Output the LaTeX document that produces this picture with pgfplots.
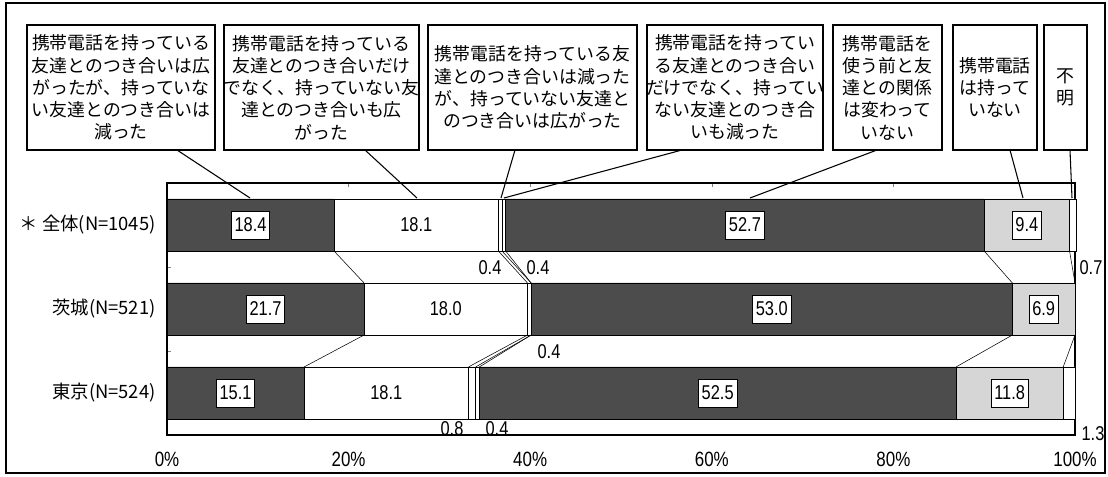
\documentclass[border=0pt]{standalone}
\usepackage{pgfplots}
\pgfplotsset{compat=1.18}
\usepackage{fontspec}
\setmainfont{Liberation Sans}
\newfontfamily\jp{Noto Sans CJK JP}
\newfontfamily\numfont[FakeStretch=0.82]{Liberation Sans}
\definecolor{dk}{gray}{0.30}
\definecolor{lt}{gray}{0.84}
\begin{document}
\begin{tikzpicture}[x=0.75pt,y=0.75pt]
\path[use as bounding box] (0,0) rectangle (1108,476);
\tikzset{
  vb/.style={fill=white, draw=black, line width=0.6pt,
    font=\numfont\fontsize{15}{15}\selectfont, inner xsep=2.5pt,
    minimum height=21pt},
  vp/.style={font=\numfont\fontsize{15}{15}\selectfont, inner sep=1pt},
  cb/.style={font=\jp\fontsize{13.4}{16.7}\selectfont, align=center, inner sep=0pt},
}
\begin{scope}[shift={(0,476)}, yscale=-1]
\draw[line width=0.9pt] (6,3) rectangle (1105,473);
\coordinate (AO) at (167,435);
\end{scope}
\pgfplotsset{
  base/.style={at={(AO)}, anchor=south west, width=681pt, height=189pt,
    scale only axis, xmin=0, xmax=100, ymin=-0.5, ymax=2.5, clip=false},
}
\begin{axis}[base,
  xbar stacked, bar width=0.62,
  axis line style={line width=1pt},
  tick align=inside, major tick length=3pt,
  xtick={0,20,40,60,80,100},
  xticklabels={0\%,20\%,40\%,60\%,80\%,100\%},
  xtick pos=right, xticklabel pos=left,
  xticklabel style={font=\numfont\fontsize{15.5}{15.5}\selectfont, yshift=-9pt},
  ytick={0.5,1.5}, yticklabels={}, ytick pos=left,
  extra y ticks={0,1,2},
  extra y tick labels={東京(N=524),茨城(N=521),＊ 全体(N=1045)},
  extra y tick style={major tick length=0pt},
  yticklabel style={font=\jp\fontsize{13.8}{14}\selectfont, xshift=-5pt},
  every axis plot/.append style={draw=black, line width=0.6pt},
]
\addplot[fill=dk] coordinates {(15.1,0) (21.7,1) (18.4,2)};
\addplot[fill=white] coordinates {(18.1,0) (18.0,1) (18.1,2)};
\addplot[fill=white] coordinates {(0.8,0) (0.4,1) (0.4,2)};
\addplot[fill=white] coordinates {(0.4,0) (0,1) (0.4,2)};
\addplot[fill=dk] coordinates {(52.5,0) (53.0,1) (52.7,2)};
\addplot[fill=lt] coordinates {(11.8,0) (6.9,1) (9.4,2)};
\addplot[fill=white] coordinates {(1.3,0) (0,1) (0.7,2)};
\end{axis}
% series lines between bars, and value labels
\begin{axis}[base, hide axis]
\addplot[black, thin] coordinates {(18.4,1.69) (21.7,1.31)};
\addplot[black, thin] coordinates {(36.5,1.69) (39.7,1.31)};
\addplot[black, thin] coordinates {(36.9,1.69) (40.1,1.31)};
\addplot[black, thin] coordinates {(37.3,1.69) (40.1,1.31)};
\addplot[black, thin] coordinates {(90.0,1.69) (93.1,1.31)};
\addplot[black, thin] coordinates {(99.4,1.69) (100.0,1.31)};
\addplot[black, thin] coordinates {(21.7,0.69) (15.1,0.31)};
\addplot[black, thin] coordinates {(39.7,0.69) (33.2,0.31)};
\addplot[black, thin] coordinates {(40.1,0.69) (34.0,0.31)};
\addplot[black, thin] coordinates {(40.1,0.69) (34.4,0.31)};
\addplot[black, thin] coordinates {(93.1,0.69) (86.9,0.31)};
\addplot[black, thin] coordinates {(100.0,0.69) (98.7,0.31)};
\node[vb] at (axis cs:9.2,2) {18.4};
\node[vp] at (axis cs:27.45,2) {18.1};
\node[vb] at (axis cs:63.65,2) {52.7};
\node[vb] at (axis cs:94.7,2) {9.4};
\node[vb] at (axis cs:10.85,1) {21.7};
\node[vp] at (axis cs:30.7,1) {18.0};
\node[vb] at (axis cs:66.6,1) {53.0};
\node[vb] at (axis cs:96.55,1) {6.9};
\node[vb] at (axis cs:7.55,0) {15.1};
\node[vp] at (axis cs:24.15,0) {18.1};
\node[vb] at (axis cs:60.65,0) {52.5};
\node[vb] at (axis cs:92.8,0) {11.8};
\end{axis}
\begin{scope}[shift={(0,476)}, yscale=-1]
% small value labels
\node[vp] at (490,268) {0.4};
\node[vp] at (538,268) {0.4};
\node[vp] at (1091,268) {0.7};
\node[vp] at (549,352) {0.4};
\node[vp] at (452,429) {0.8};
\node[vp] at (497,429) {0.4};
\node[vp] at (1093,434) {1.3};
% callout boxes
\begin{scope}[line width=0.8pt]
\draw (27,25) rectangle (215,150);
\draw (224,25) rectangle (419,150);
\draw (428,25) rectangle (637,150);
\draw (647,25) rectangle (823,150);
\draw (833,25) rectangle (942,150);
\draw (953,25) rectangle (1037,150);
\draw (1044,25) rectangle (1087,150);
\end{scope}
\node[cb] at (121,87.5) {携帯電話を持っている\\友達とのつき合いは広\\がったが、持っていな\\い友達とのつき合いは\\減った};
\node[cb] at (321.5,87.5) {携帯電話を持っている\\友達とのつき合いだけ\\でなく、持っていない友\\達とのつき合いも広\\がった};
\node[cb] at (532.5,87.5) {携帯電話を持っている友\\達とのつき合いは減った\\が、持っていない友達と\\のつき合いは広がった};
\node[cb] at (735,87.5) {携帯電話を持ってい\\る友達とのつき合い\\だけでなく、持ってい\\ない友達とのつき合\\いも減った};
\node[cb] at (887.5,87.5) {携帯電話を\\使う前と友\\達との関係\\は変わって\\いない};
\node[cb] at (995,87.5) {携帯電話\\は持って\\いない};
\node[cb] at (1065.5,87.5) {不\\明};
% leader lines
\begin{scope}[line width=0.8pt]
\draw (177,150) -- (250,198);
\draw (365,150) -- (417,198);
\draw (515,150) -- (501,198);
\draw (682,150) -- (504,198);
\draw (877,150) -- (750,198);
\draw (1010,150) -- (1023,198);
\draw (1070,150) -- (1072,198);
\end{scope}
\end{scope}
\end{tikzpicture}
\end{document}
